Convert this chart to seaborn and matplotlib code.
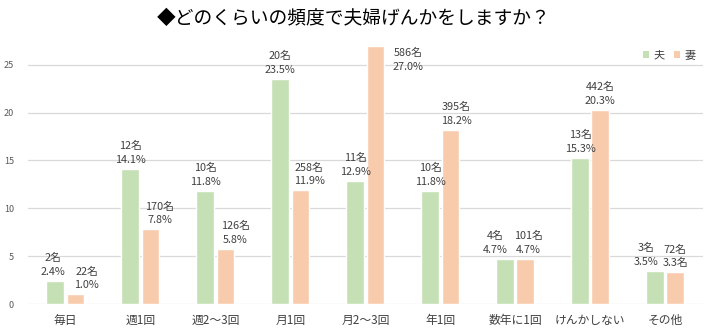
import matplotlib
matplotlib.use("Agg")
import matplotlib.pyplot as plt
import seaborn as sns
import pandas as pd
from matplotlib.patches import Patch

categories = ["毎日", "週1回", "週2～3回", "月1回", "月2～3回", "年1回", "数年に1回", "けんかしない", "その他"]
husband_pct = [2.4, 14.1, 11.8, 23.5, 12.9, 11.8, 4.7, 15.3, 3.5]
wife_pct = [1.0, 7.8, 5.8, 11.9, 27.0, 18.2, 4.7, 20.3, 3.3]
husband_labels = ["2名\n2.4%", "12名\n14.1%", "10名\n11.8%", "20名\n23.5%", "11名\n12.9%",
                  "10名\n11.8%", "4名\n4.7%", "13名\n15.3%", "3名\n3.5%"]
wife_labels = ["22名\n1.0%", "170名\n7.8%", "126名\n5.8%", "258名\n11.9%", "586名\n27.0%",
               "395名\n18.2%", "101名\n4.7%", "442名\n20.3%", "72名\n3.3名"]
series = ["夫", "妻"]
title = "◆どのくらいの頻度で夫婦げんかをしますか？"

sns.set_theme(style="white")
plt.rcParams["font.family"] = ["Noto Sans CJK JP", "DejaVu Sans"]

df = pd.DataFrame({
    "cat": categories * 2,
    "series": [series[0]] * len(categories) + [series[1]] * len(categories),
    "val": husband_pct + wife_pct,
})

colors = {"夫": "#C5E0B4", "妻": "#F8CBAD"}

fig = plt.figure(figsize=(7.08, 3.33), dpi=100)
ax = fig.add_axes([0.0395, 0.087, 0.953, 0.805])
sns.barplot(data=df, x="cat", y="val", hue="series", palette=colors, order=categories,
            hue_order=series, width=0.54, gap=0.12, ax=ax, legend=False, saturation=1)

ax.set_ylim(0, 28)
ax.set_xlim(-0.5, len(categories) - 0.5)
ax.set_yticks([0, 5, 10, 15, 20, 25])
ax.yaxis.grid(True, color="#D9D9D9", linewidth=0.9)
ax.set_axisbelow(True)
for s in ax.spines.values():
    s.set_visible(False)
ax.set_xlabel("")
ax.set_ylabel("")
ax.tick_params(axis="y", length=0, pad=10, labelsize=6.5, labelcolor="#595959")
ax.tick_params(axis="x", length=0, pad=7, labelsize=8.5, labelcolor="#404040")

# label offsets (pixels) for readability, as in the reference
h_off = {0: (-2, 0), 6: (-10, 0), 8: (-9, 0)}
w_off = {0: (11, 0), 1: (9, 0), 2: (10, 0), 3: (9, 0), 4: (33, -30), 5: (6, 0), 6: (3, 0)}
for i, c in enumerate(ax.containers):
    labels = husband_labels if i == 0 else wife_labels
    offs = h_off if i == 0 else w_off
    for j, bar in enumerate(c):
        dx, dy = offs.get(j, (0, 0))
        ax.annotate(labels[j], (bar.get_x() + bar.get_width() / 2, bar.get_height()),
                    xytext=(dx, 4 + dy), textcoords="offset pixels", ha="center", va="bottom",
                    fontsize=7.8, color="#404040", linespacing=1.45, annotation_clip=False)

handles = [Patch(facecolor=colors[s], edgecolor="none") for s in series]
ax.legend(handles, series, loc="upper right", bbox_to_anchor=(1.0, 0.97), ncol=2, frameon=False,
          handlelength=0.6, handleheight=0.6, handletextpad=0.4, columnspacing=0.8,
          fontsize=8, labelcolor="#404040", borderaxespad=0.2)

fig.text(0.5, 0.945, title, ha="center", va="center", fontsize=13.5, color="black")

fig.savefig("out.png", dpi=100)
